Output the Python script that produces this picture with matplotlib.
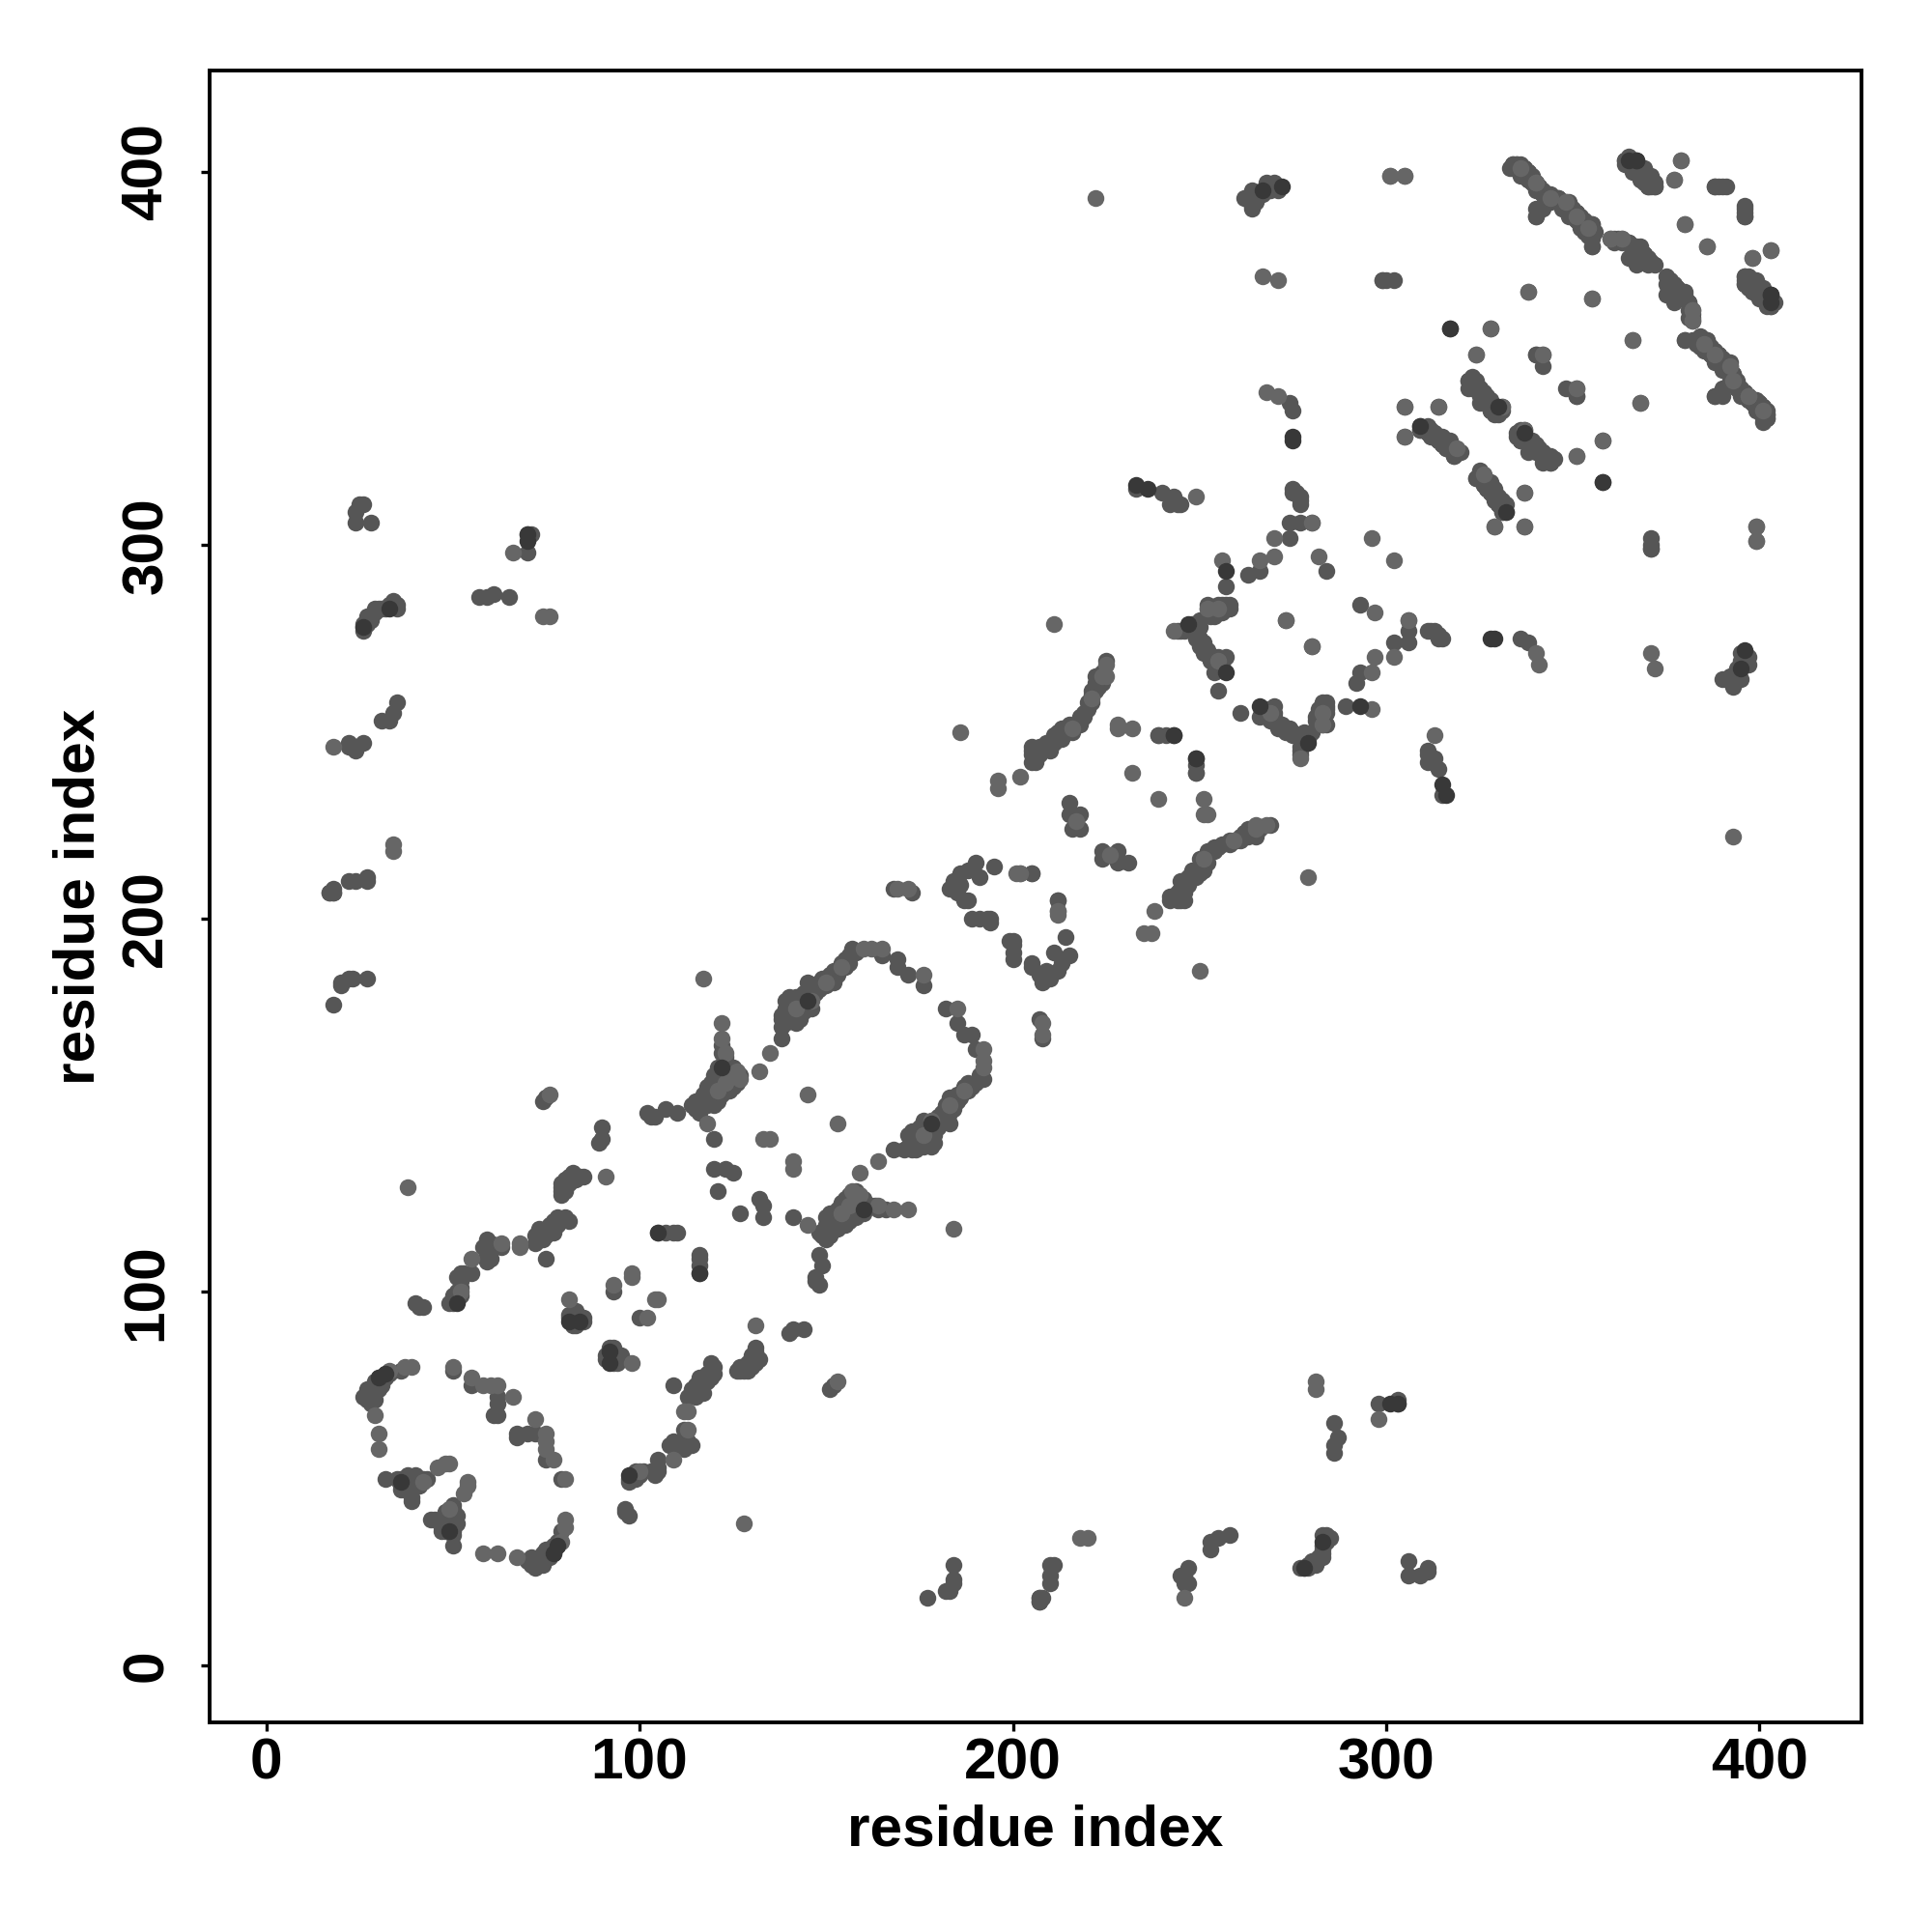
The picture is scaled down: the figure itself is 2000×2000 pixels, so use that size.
import matplotlib
matplotlib.use('Agg')
import matplotlib.pyplot as plt

plt.rcParams['font.family'] = ['Liberation Sans', 'DejaVu Sans']

contacts_mid = [
    # n-terminal ring
    (36, 79), (32, 78), (31, 77), (30, 76), (29, 75), (28, 74), (27, 73), (27, 72), (28, 71), (28, 70),
    (32, 50), (35, 50), (36, 49), (36, 48), (38, 50), (40, 51), (39, 45), (41, 49), (43, 50),
    (50, 79), (55, 75), (62, 72), (62, 70), (61, 67), (62, 67),
    (42, 96), (40, 97), (41, 96), (49, 97), (50, 97), (51, 98), (52, 99), (52, 101), (52, 105), (55, 105),
    (59, 108), (59, 110), (59, 112), (59, 114), (63, 112), (73, 114), (73, 115), (74, 116), (75, 117),
    (76, 118), (77, 119), (79, 119), (81, 119), (75, 109),
    (79, 126), (79, 128), (79, 129), (80, 130), (82, 132), (84, 131), (85, 131), (74, 151), (75, 152),
    (90, 144), (90, 141), (89, 140),
    (81, 93), (81, 94), (82, 91), (82, 92), (83, 91), (83, 94), (84, 93), (85, 92), (85, 93), (83, 95),
    (93, 100), (105, 116), (107, 116), (109, 116), (110, 116), (120, 133), (123, 133), (125, 132), (121, 127),
    (102, 148), (103, 147), (104, 147), (107, 149), (110, 148),
    (27, 74), (29, 76), (29, 73), (30, 74), (31, 75), (28, 72), (28, 73), (32, 77), (33, 78), (30, 77), (26, 72), (27, 71), (29, 71),
    (36, 47), (37, 48), (38, 48), (38, 51), (39, 50), (40, 49), (41, 50), (41, 48), (42, 50), (39, 44), (37, 49), (37, 47), (36, 50),
    (50, 99), (51, 100), (52, 103), (51, 104), (53, 105), (60, 113), (58, 112), (60, 109), (60, 111),
    (72, 115), (72, 113), (74, 114), (75, 115), (76, 116), (77, 116), (78, 118), (73, 117), (78, 120), (80, 120),
    (79, 127), (81, 129), (81, 131), (83, 131), (80, 127), (83, 130),
    # first bubble
    (117, 153), (115, 151), (116, 149), (118, 152), (119, 156), (120, 156), (121, 160), (122, 158), (122, 164),
    (123, 162), (124, 160), (125, 158), (126, 157), (126, 156), (127, 158), (120, 141),
    (138, 168), (138, 171), (138, 174), (139, 178), (140, 176), (142, 172), (142, 175), (142, 179), (146, 176), (146, 179),
    (145, 183), (148, 181), (150, 182), (152, 183), (151, 185), (153, 186), (154, 188), (156, 188), (157, 192),
    (165, 190), (169, 189), (169, 187), (172, 185), (176, 182), (168, 208), (173, 207),
    (117, 151), (118, 150), (119, 153), (120, 154), (121, 155), (121, 157), (122, 155), (123, 157), (124, 157), (125, 156),
    (125, 160), (126, 158), (120, 158), (122, 160), (119, 155), (118, 155), (116, 151), (114, 150), (115, 149), (123, 163), (122, 166),
    (116, 148), (117, 150), (118, 151), (119, 151), (120, 152), (121, 153), (122, 154), (123, 155), (122, 153), (124, 154), (125, 155), (121, 151), (120, 150),
    (143, 176), (144, 176), (143, 178), (144, 180), (145, 180), (147, 180), (148, 183), (149, 184), (151, 184), (152, 186), (153, 185), (155, 187),
    (141, 174), (140, 173), (139, 172), (143, 173), (144, 175), (140, 179), (139, 176), (138, 173), (155, 189), (156, 190), (158, 191),
    (184, 210), (186, 212), (186, 209), (185, 207), (187, 205), (188, 205), (190, 215), (191, 211), (195, 214), (188, 213),
    (183, 208), (189, 200), (191, 200), (193, 200), (194, 200), (194, 199), (202, 212), (205, 212), (212, 205),
    # second bubble
    (205, 242), (206, 242), (205, 246), (207, 246), (210, 247), (212, 248), (214, 250), (216, 251), (217, 252), (218, 252),
    (219, 255), (220, 258), (222, 261), (221, 260), (222, 263), (215, 231), (215, 228), (216, 228), (218, 228), (216, 224), (218, 224),
    (222, 265), (223, 262), (221, 258), (220, 256), (219, 254), (218, 254), (216, 250), (215, 252), (214, 251), (213, 248), (211, 247),
    (209, 246), (208, 245), (207, 244), (221, 261), (224, 266), (225, 269), (223, 264), (224, 263),
    (209, 247), (210, 246), (210, 245), (211, 249), (212, 250), (213, 251), (205, 244), (205, 245),
    (239, 249), (241, 249), (245, 277), (248, 279), (250, 278), (250, 275), (251, 274), (252, 272), (251, 273),
    # third bubble
    (253, 283), (254, 281), (255, 284), (256, 284), (258, 284), (257, 289), (254, 266), (255, 261), (255, 270),
    (266, 293), (263, 292), (274, 302), (280, 306), (277, 306), (275, 314), (276, 314), (277, 311), (277, 313),
    (233, 315), (240, 314), (242, 311), (243, 313), (244, 311), (245, 311), (273, 280), (284, 293), (274, 306),
    (275, 315), (277, 312), (249, 239),
    (252, 284), (253, 281), (249, 277), (249, 275), (250, 273), (251, 271), (253, 269), (254, 268), (255, 267),
    (244, 277), (246, 277), (248, 278), (250, 280), (252, 283), (255, 282), (254, 283), (256, 282), (257, 284), (258, 283),
    (254, 270), (256, 268), (257, 270),
    # c-terminal bands
    (262, 393), (264, 391), (264, 395), (267, 394), (269, 395), (271, 395), (299, 371), (300, 371), (302, 371), (275, 336), (274, 338),
    (334, 402), (333, 401), (338, 400), (337, 401), (339, 397), (341, 395), (343, 393), (340, 390), (340, 388), (346, 393),
    (348, 392), (350, 390), (352, 388), (355, 386), (355, 383), (355, 380), (365, 381), (367, 380), (370, 377), (367, 376),
    (364, 403), (364, 402), (369, 401), (371, 398), (372, 396), (388, 396), (389, 396), (390, 396), (396, 391), (396, 388),
    (396, 372), (399, 371), (401, 368), (402, 365), (398, 368), (396, 370), (404, 365),
    (376, 370), (380, 368), (375, 367), (377, 365), (380, 355), (382, 355), (386, 355), (389, 351), (392, 349),
    (393, 346), (394, 342), (397, 340), (400, 338), (401, 334), (388, 340), (390, 342), (388, 349),
    (322, 344), (324, 344), (326, 340), (329, 337), (328, 336), (322, 342),
    (309, 332), (310, 331), (312, 331), (314, 328), (317, 328), (318, 324),
    (337, 331), (336, 328), (339, 328), (342, 325), (344, 323), (338, 325), (325, 319), (324, 318), (327, 317), (329, 315),
    (340, 351), (342, 351), (348, 342), (351, 340), (358, 328), (337, 314), (337, 305), (371, 299),
    (264, 390), (265, 392), (264, 391), (270, 397), (268, 397),
    (335, 402), (336, 402), (336, 400), (337, 399), (338, 398), (339, 398), (340, 396), (341, 396), (342, 394), (343, 394), (344, 392), (345, 393),
    (347, 391), (348, 390), (349, 391), (350, 388), (351, 389), (351, 387), (352, 386), (353, 387), (353, 385), (354, 384), (356, 384),
    (366, 380), (367, 378), (368, 378), (369, 378), (369, 376), (370, 375), (371, 376), (372, 375),
    (365, 402), (366, 401), (367, 400), (368, 399), (369, 399), (370, 398), (370, 396), (371, 396), (372, 397),
    (397, 371), (398, 370), (399, 369), (400, 368), (400, 366), (401, 366), (402, 367), (403, 365), (403, 364), (397, 369),
    (377, 369), (378, 369), (378, 367), (379, 366), (380, 366), (381, 365), (381, 363), (382, 362), (381, 361), (382, 361),
    (383, 354), (384, 353), (385, 352), (386, 353), (387, 351), (388, 351), (389, 349), (390, 349), (390, 347), (391, 347), (392, 347),
    (393, 344), (394, 344), (395, 342), (395, 340), (396, 341), (397, 339), (398, 338), (399, 336), (400, 336), (401, 337), (402, 335), (402, 334), (399, 339),
    (323, 343), (325, 342), (325, 341), (327, 339), (327, 338), (328, 338), (330, 336), (329, 335), (331, 336), (324, 342),
    (309, 331), (311, 330), (312, 329), (313, 329), (315, 327), (316, 326), (317, 326), (318, 326), (319, 325), (316, 328), (320, 325),
    (335, 330), (337, 329), (338, 328), (339, 326), (340, 327), (340, 325), (341, 326), (342, 323), (343, 324), (344, 322), (345, 323),
    (325, 318), (326, 316), (327, 315), (328, 316), (328, 314), (329, 313), (330, 313), (330, 311), (331, 310), (332, 311), (331, 309),
    # far contacts
    (20, 182), (22, 184), (27, 184), (17, 207), (18, 207), (22, 210), (24, 210), (27, 210), (27, 211),
    (22, 246), (24, 246), (24, 245), (22, 247), (31, 253), (33, 253), (34, 255), (35, 258),
    (26, 278), (26, 277), (27, 280), (28, 281), (30, 283), (32, 283), (35, 284), (35, 283),
    (24, 309), (25, 311), (26, 311), (24, 306), (28, 306), (57, 286), (59, 286), (61, 287), (65, 286),
    (70, 303), (71, 303), (70, 298), (18, 177), (20, 183), (23, 184), (26, 279), (27, 279), (18, 208),
    (26, 247), (27, 281), (29, 282), (33, 284), (34, 285), (28, 280), (29, 283), (31, 283),
    (18, 207), (17, 207),
]

contacts_light = [
    (39, 80), (37, 80), (33, 79), (29, 67), (30, 62), (30, 58), (42, 49), (46, 53), (48, 54), (49, 54),
    (50, 80), (55, 77), (58, 75), (60, 75), (62, 75), (66, 72), (38, 128), (52, 100), (55, 109), (63, 113),
    (68, 112), (68, 113), (91, 131), (76, 153), (81, 98), (93, 102), (98, 104), (98, 105),
    (117, 184), (122, 172), (122, 168), (123, 164), (126, 159), (127, 157), (132, 159), (135, 164), (145, 153),
    (133, 141), (135, 141), (118, 145), (160, 192), (162, 192), (165, 192), (176, 185),
    (202, 238), (196, 237), (196, 235), (225, 268), (225, 265), (228, 251), (232, 251), (232, 239), (228, 252),
    (217, 226), (201, 212), (212, 202), (169, 208), (172, 208), (222, 393), (211, 279), (186, 250),
    (256, 296), (266, 296), (270, 297), (270, 302), (280, 306), (255, 269), (282, 297), (296, 302), (280, 273),
    (243, 277), (249, 313), (268, 341), (271, 340), (267, 372), (271, 371), (301, 399), (305, 399),
    (379, 403), (377, 398), (380, 386), (386, 380), (398, 377), (403, 379), (338, 368), (355, 366), (328, 358),
    (366, 355), (324, 351), (360, 382), (363, 382), (382, 363), (382, 360), (401, 336), (331, 337), (368, 338),
    (305, 337), (314, 337), (305, 329), (351, 342), (351, 324), (329, 305), (399, 305), (399, 301),
    (18, 246), (34, 218), (34, 220), (66, 298), (74, 281), (76, 281), (319, 326),
    (142, 176), (146, 178), (150, 183), (154, 187), (124, 158), (121, 154), (123, 156), (252, 283), (255, 283),
    (340, 397), (344, 393), (351, 388), (354, 385), (392, 348), (397, 340), (216, 251), (221, 259), (224, 265),
]

contacts_dark = [
    (51, 97), (116, 105), (81, 92), (84, 92), (122, 160), (145, 178), (257, 293), (257, 266), (243, 249),
    (249, 243), (233, 316), (236, 315), (275, 329), (275, 328), (267, 395), (403, 367), (367, 403),
    (317, 358), (332, 309), (358, 317), (330, 337), (365, 403), (36, 49), (78, 32), (247, 279), (30, 77),
    (70, 301), (70, 303), (26, 278), (33, 283), (272, 396),
]

tick_vals = [0, 100, 200, 300, 400]

fig = plt.figure(figsize=(20, 20), dpi=100)
ax = fig.add_axes([216.5 / 2000, 217 / 2000, 1710.5 / 2000, 1710.3 / 2000])


def draw_contacts(pairs, color):
    # map is symmetric, draw each contact on both sides of the diagonal
    xs = [p[0] for p in pairs] + [p[1] for p in pairs]
    ys = [p[1] for p in pairs] + [p[0] for p in pairs]
    ax.scatter(xs, ys, s=158, color=color, linewidths=0, zorder=3)


draw_contacts(contacts_mid, '#565656')
draw_contacts(contacts_light, '#666666')
draw_contacts(contacts_dark, '#383838')

ax.set_xlim(-15.3, 427.3)
ax.set_ylim(-15.3, 427.2)
ax.set_xticks(tick_vals)
ax.set_yticks(tick_vals)
ax.set_xticklabels([str(v) for v in tick_vals], fontsize=43.5, fontweight='bold')
ax.set_yticklabels([str(v) for v in tick_vals], fontsize=43.5, fontweight='bold', rotation=90, va='center')
ax.tick_params(axis='both', length=6.5, width=2.4, color='black')
ax.tick_params(axis='y', pad=20)
ax.tick_params(axis='x', pad=4.5)

for spine in ax.spines.values():
    spine.set_linewidth(2.8)

ax.set_xlabel('residue index', fontsize=43.5, fontweight='bold', labelpad=10)
ax.set_ylabel('residue index', fontsize=43.5, fontweight='bold', labelpad=11)

fig.savefig('out.png', dpi=100, facecolor='white')
